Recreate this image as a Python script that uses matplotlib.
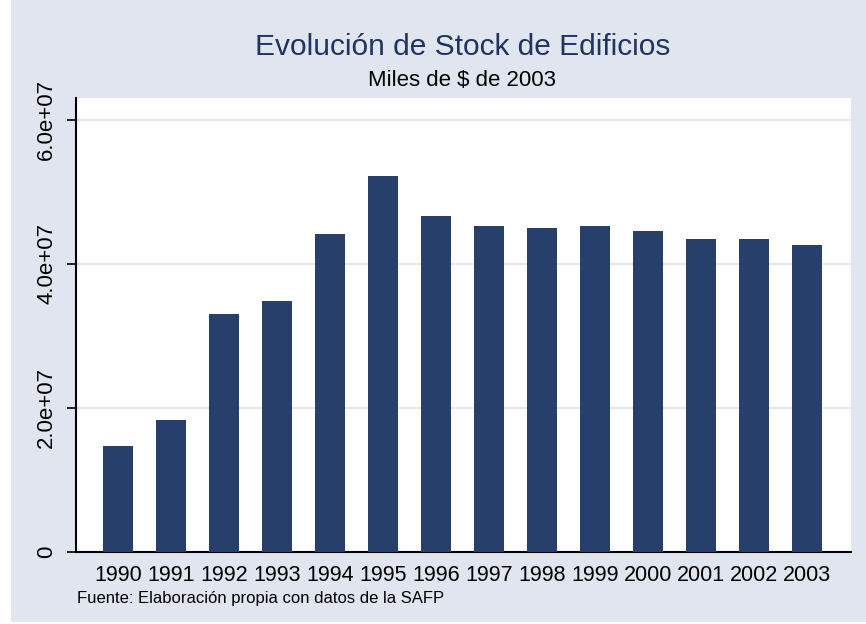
import matplotlib.pyplot as plt
from matplotlib.patches import Rectangle

years = ['1990', '1991', '1992', '1993', '1994', '1995', '1996',
         '1997', '1998', '1999', '2000', '2001', '2002', '2003']
stock = [14.7e6, 18.3e6, 33.1e6, 34.9e6, 44.2e6, 52.2e6, 46.7e6,
         45.3e6, 45.0e6, 45.3e6, 44.6e6, 43.5e6, 43.5e6, 42.6e6]
yticks = [0, 2e7, 4e7, 6e7]
ytick_labels = ['0', '2.0e+07', '4.0e+07', '6.0e+07']

plt.rcParams['font.family'] = ['Liberation Sans', 'DejaVu Sans']

bg = '#e1e5ef'
bar_color = '#263f6b'

fig = plt.figure(figsize=(8.66, 6.24), dpi=100)
fig.patch.set_facecolor('white')
fig.patches.append(Rectangle((11 / 866, 2 / 624), 855 / 866, 622 / 624,
                             transform=fig.transFigure, facecolor=bg,
                             edgecolor='none', zorder=-10))

ax = fig.add_axes([76 / 866, 72 / 624, 775 / 866, 454 / 624])
ax.set_facecolor('white')

x = list(range(len(years)))
ax.bar(x, stock, width=0.57, color=bar_color, zorder=3)

ax.set_xlim(-0.79, 13.83)
ax.set_ylim(0, 63.05e6)

ax.set_yticks(yticks)
ax.set_yticklabels(ytick_labels, rotation=90, va='center', fontsize=16)
ax.set_xticks(x)
ax.set_xticklabels(years, fontsize=15.5)
ax.tick_params(axis='x', length=0, pad=9.5)
ax.tick_params(axis='y', length=6.5, width=1.2, pad=7)

ax.grid(axis='y', color='#dfe3ef', linewidth=1.2, zorder=0)

for side in ['top', 'right']:
    ax.spines[side].set_visible(False)
for side in ['left', 'bottom']:
    ax.spines[side].set_linewidth(1.5)
    ax.spines[side].set_color('black')

fig.text(0.534, 0.925, 'Evolución de Stock de Edificios', ha='center',
         va='center', fontsize=21.5, color='#1f3461')
fig.text(0.534, 0.871, 'Miles de $ de 2003', ha='center', va='center',
         fontsize=16)
fig.text(77 / 866, 1 - 598 / 624, 'Fuente: Elaboración propia con datos de la SAFP',
         ha='left', va='center', fontsize=12)

fig.savefig('out.png', dpi=100, facecolor=fig.get_facecolor())
